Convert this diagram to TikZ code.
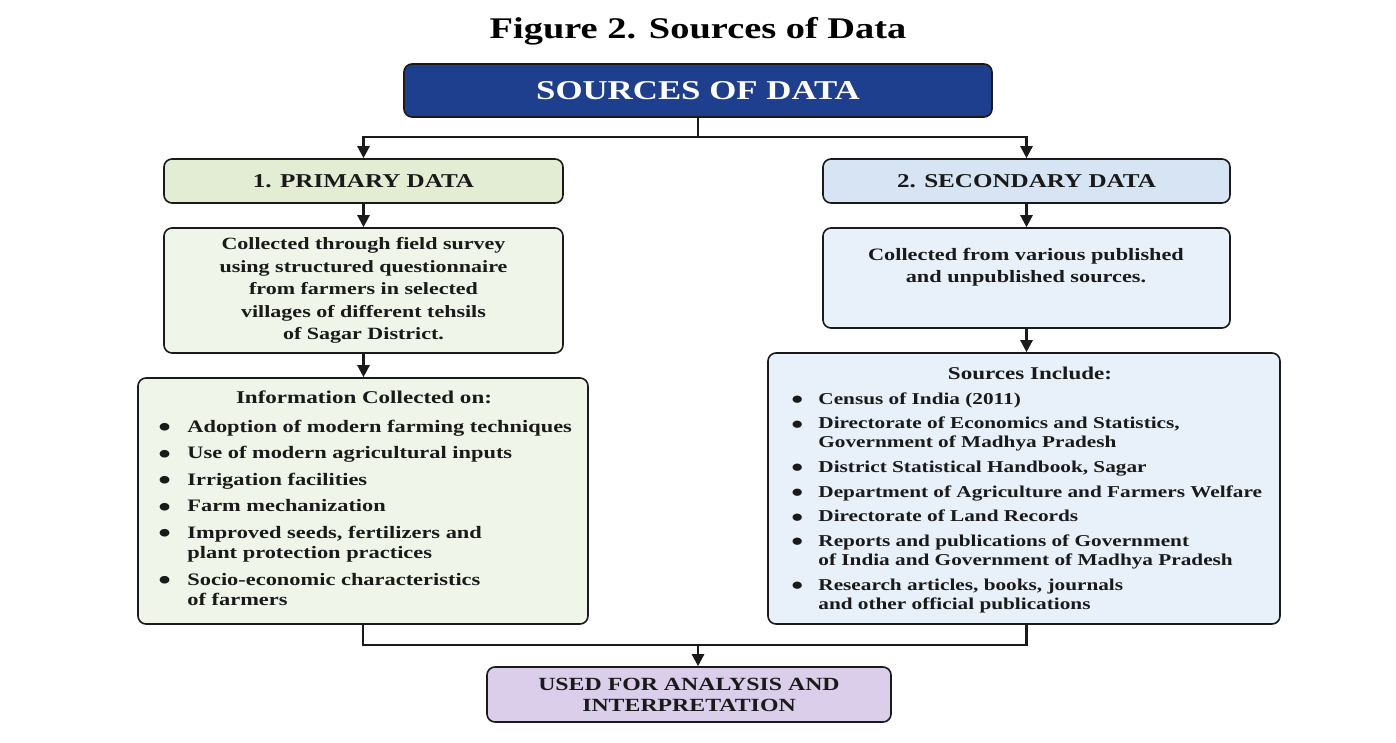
\documentclass[tikz,border=0pt]{standalone}
\usepackage{fontspec}
\usepackage{graphicx}
\setmainfont{Liberation Serif}[FakeStretch=1.28]
\usetikzlibrary{arrows.meta}
\definecolor{topblue}{HTML}{1E3F8E}
\definecolor{greenhead}{HTML}{E2EDD3}
\definecolor{greenbody}{HTML}{EFF5E8}
\definecolor{bluehead}{HTML}{D6E4F4}
\definecolor{bluebody}{HTML}{E8F0FA}
\definecolor{lavender}{HTML}{DACEEB}
\definecolor{ink}{HTML}{1A1A1A}
\newcommand{\bigbul}{\raisebox{-0.6ex}{\scalebox{1.6}{\textbullet}}}
\begin{document}
\begin{tikzpicture}[x=0.5pt,y=-0.5pt,
  box/.style={draw=ink, line width=0.8pt, rounded corners=4pt, inner sep=0pt, align=center, text=ink},
  conn/.style={line width=1.2pt, draw=ink},
  arr/.style={conn, -{Triangle[length=6pt,width=6pt]}},
  txt/.style={inner sep=0pt, text=ink, font=\bfseries\fontsize{8.7}{11.25}\selectfont, align=center}]
\useasboundingbox (0,0) rectangle (1396,743);
\fill[white] (0,0) rectangle (1396,743);

\node[inner sep=0pt, text=black, font=\bfseries\fontsize{15}{18}\selectfont] (title) at (698,31) {Figure 2. Sources of Data};

\node[box, fill=topblue, text=white, minimum width=294pt, minimum height=26.5pt,
      font=\bfseries\fontsize{13.6}{16}\selectfont] (top) at (698,90.5) {SOURCES OF DATA};

\node[box, fill=greenhead, minimum width=199.5pt, minimum height=22pt,
      font=\bfseries\fontsize{9.8}{12}\selectfont] (prim) at (363.5,181) {1. PRIMARY DATA};
\node[box, fill=bluehead, minimum width=203.5pt, minimum height=22pt,
      font=\bfseries\fontsize{9.8}{12}\selectfont] (sec) at (1026.5,181) {2. SECONDARY DATA};

\node[box, fill=greenbody, minimum width=199.5pt, minimum height=62.5pt,
      font=\bfseries\fontsize{8.6}{11.25}\selectfont] (psurvey) at (363.5,290.5)
  {Collected through field survey\\using structured questionnaire\\from farmers in selected\\villages of different tehsils\\of Sagar District.};

\node[box, fill=bluebody, minimum width=203.5pt, minimum height=50pt] (spub) at (1026.5,278) {};
\node[txt] (spubtext) at (1026,267) {Collected from various published\\and unpublished sources.};

\node[box, fill=greenbody, minimum width=225pt, minimum height=123pt] (pinfo) at (363,501) {};
\node[txt, anchor=base, font=\bfseries\fontsize{9}{11}\selectfont] (pinfotitle) at (364,403) {Information Collected on:};
\node[inner sep=0pt, anchor=base west, text=ink, font=\bfseries\fontsize{8.75}{10.25}\selectfont] (pinfolist) at (158,432)
 {\begin{tabular}[t]{@{}p{14.5pt}@{}l@{}}
  \bigbul & Adoption of modern farming techniques\\[3pt]
  \bigbul & Use of modern agricultural inputs\\[3pt]
  \bigbul & Irrigation facilities\\[3pt]
  \bigbul & Farm mechanization\\[3pt]
  \bigbul & Improved seeds, fertilizers and\\
              & plant protection practices\\[3pt]
  \bigbul & Socio-economic characteristics\\
              & of farmers
  \end{tabular}};

\node[box, fill=bluebody, minimum width=256pt, minimum height=135.5pt] (ssrc) at (1024,488.5) {};
\node[txt, anchor=base, font=\bfseries\fontsize{9}{11}\selectfont] (ssrctitle) at (1030,379) {Sources Include:};
\node[inner sep=0pt, anchor=base west, text=ink, font=\bfseries\fontsize{8.3}{9.6}\selectfont] (ssrclist) at (791,404)
 {\begin{tabular}[t]{@{}p{13.5pt}@{}l@{}}
  \bigbul & Census of India (2011)\\[2.7pt]
  \bigbul & Directorate of Economics and Statistics,\\
              & Government of Madhya Pradesh\\[2.7pt]
  \bigbul & District Statistical Handbook, Sagar\\[2.7pt]
  \bigbul & Department of Agriculture and Farmers Welfare\\[2.7pt]
  \bigbul & Directorate of Land Records\\[2.7pt]
  \bigbul & Reports and publications of Government\\
              & of India and Government of Madhya Pradesh\\[2.7pt]
  \bigbul & Research articles, books, journals\\
              & and other official publications
  \end{tabular}};

\node[box, fill=lavender, minimum width=202pt, minimum height=27.5pt,
      font=\bfseries\fontsize{9.3}{10.5}\selectfont] (use) at (689,694.5) {USED FOR ANALYSIS AND\\INTERPRETATION};

% connectors
\coordinate (fork) at (698,137);
\draw[conn] (top.south) -- (fork);
\draw[arr] (fork) -| (prim.north);
\draw[arr] (fork) -| (sec.north);
\draw[arr] (prim.south) -- (psurvey.north);
\draw[arr] (sec.south) -- (spub.north);
\draw[arr] (psurvey.south) -- (psurvey.south |- pinfo.north);
\draw[arr] (spub.south) -- (spub.south |- ssrc.north);
\coordinate (join) at (698,645);
\draw[conn] (pinfo.south) -- (pinfo.south |- join) -- (join) -- (join -| spub.south) -- (spub.south |- ssrc.south);
\draw[arr] (join) -- (join |- use.north);
\end{tikzpicture}
\end{document}
